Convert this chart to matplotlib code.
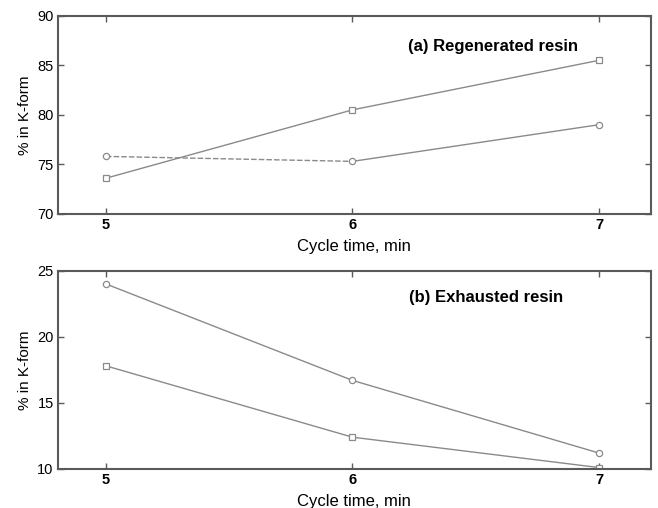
import matplotlib.pyplot as plt

plt.rcParams['font.family'] = ['Liberation Sans', 'DejaVu Sans']

cycle_time = [5, 6, 7]
regen_square = [73.6, 80.5, 85.5]
regen_circle = [75.8, 75.3, 79.0]
exhaust_circle = [24.0, 16.7, 11.2]
exhaust_square = [17.8, 12.4, 10.1]

line_col = '#8a8a8a'
spine_col = '#5a5a5a'

fig = plt.figure(figsize=(6.58, 5.08), dpi=100)
ax1 = fig.add_axes([0.088, 0.579, 0.901, 0.390])
ax2 = fig.add_axes([0.088, 0.077, 0.901, 0.390])


def style(ax, ylim, yticks):
    ax.set_xlim(4.805, 7.21)
    ax.set_ylim(*ylim)
    ax.set_xticks(cycle_time)
    ax.set_xticklabels([str(c) for c in cycle_time], fontweight='bold')
    ax.set_yticks(yticks)
    ax.tick_params(direction='in', top=True, right=True, length=4,
                   width=1.0, color=spine_col, labelsize=10.5, pad=3)
    for s in ax.spines.values():
        s.set_color(spine_col)
        s.set_linewidth(1.5)
    ax.set_xlabel('Cycle time, min', fontsize=12, labelpad=5)
    ax.set_ylabel('% in K-form', fontsize=11, labelpad=4)


# (a) regenerated
ax1.plot(cycle_time, regen_square, color=line_col, lw=1.0, marker='s',
         ms=4.5, mfc='white', mec=line_col, mew=0.9)
ax1.plot(cycle_time[:2], regen_circle[:2], color=line_col, lw=1.0,
         ls=(0, (4, 1.5)))
ax1.plot(cycle_time[1:], regen_circle[1:], color=line_col, lw=1.0)
ax1.plot(cycle_time, regen_circle, ls='none', marker='o', ms=4.5,
         mfc='white', mec=line_col, mew=0.9)
style(ax1, (70, 90), [70, 75, 80, 85, 90])
ax1.text(0.734, 0.843, '(a) Regenerated resin', transform=ax1.transAxes,
         ha='center', va='center', fontsize=12, fontweight='bold')

# (b) exhausted
ax2.plot(cycle_time, exhaust_circle, color=line_col, lw=1.0, marker='o',
         ms=4.5, mfc='white', mec=line_col, mew=0.9)
ax2.plot(cycle_time, exhaust_square, color=line_col, lw=1.0, marker='s',
         ms=4.5, mfc='white', mec=line_col, mew=0.9)
style(ax2, (10, 25), [10, 15, 20, 25])
ax2.text(0.723, 0.867, '(b) Exhausted resin', transform=ax2.transAxes,
         ha='center', va='center', fontsize=12, fontweight='bold')

fig.savefig('out.png', dpi=100)
